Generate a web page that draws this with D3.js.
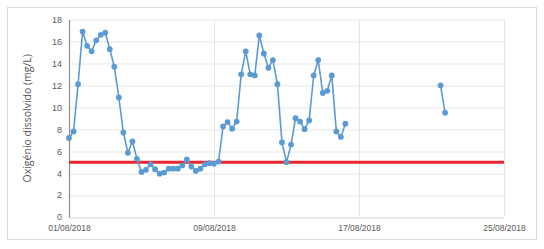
<!DOCTYPE html>
<html>
<head>
<meta charset="utf-8">
<script src="https://cdn.jsdelivr.net/npm/d3@7"></script>
<style>
  html, body { margin: 0; padding: 0; background: #fff; }
  svg { display: block; font-family: "Open Sans", "Liberation Sans", sans-serif; }
</style>
</head>
<body>
<div id="chart"></div>
<script>
/* Dissolved oxygen, one reading every 6 hours from 01/08/2018 00:00.
   null = no reading (the gap before the last two samples). */
const startDate = new Date(2018, 7, 1);
const stepHours = 6;
const oxygen = [
  7.2, 7.8, 12.1, 16.9, 15.6, 15.1, 16.1, 16.6, 16.8, 15.3,
  13.7, 10.9, 7.7, 5.85, 6.9, 5.3, 4.1, 4.3, 4.8, 4.35,
  3.95, 4.05, 4.4, 4.4, 4.4, 4.7, 5.25, 4.6, 4.2, 4.4,
  4.8, 4.9, 4.85, 5.05, 8.25, 8.65, 8.05, 8.7, 13.0, 15.1,
  13.0, 12.9, 16.55, 14.9, 13.6, 14.3, 12.1, 6.8, 5.0, 6.6,
  9.0, 8.7, 8.0, 8.8, 12.9, 14.3, 11.3, 11.5, 12.9, 7.8,
  7.3, 8.5,
  null, null, null, null, null, null, null, null, null, null,
  null, null, null, null, null, null, null, null, null, null,
  12.0, 9.5
];
const limitValue = 5;
const yTicks = [0, 2, 4, 6, 8, 10, 12, 14, 16, 18];
const xTickDates = [new Date(2018, 7, 1), new Date(2018, 7, 9), new Date(2018, 7, 17), new Date(2018, 7, 25)];
const yTitle = "Oxigénio dissolvido (mg/L)";

const W = 544, H = 249;
const m = { top: 19.5, right: 40, bottom: 32, left: 69 };
const iw = W - m.left - m.right, ih = H - m.top - m.bottom;

const data = oxygen.map((v, i) => ({ t: d3.timeHour.offset(startDate, i * stepHours), v }));

const svg = d3.select("#chart").append("svg").attr("width", W).attr("height", H);

// chart frame
svg.append("rect").attr("x", 7.5).attr("y", 7.5).attr("width", 529).attr("height", 232)
  .attr("fill", "#fff").attr("stroke", "#d9d9d9");

const g = svg.append("g").attr("transform", `translate(${m.left},${m.top})`);

const x = d3.scaleTime().domain([xTickDates[0], xTickDates[3]]).range([0, iw]);
const y = d3.scaleLinear().domain([0, 18]).range([ih, 0]);

// gridlines
g.append("g").selectAll("line").data(yTicks).join("line")
  .attr("x1", 0).attr("x2", iw)
  .attr("y1", (d) => Math.round(y(d)) + 0.5).attr("y2", (d) => Math.round(y(d)) + 0.5)
  .attr("stroke", (d) => d === 0 ? "#d4d4d4" : "#e6e6e6");
g.append("g").selectAll("line").data(xTickDates.slice(1)).join("line")
  .attr("x1", (d) => Math.round(x(d)) + 0.5).attr("x2", (d) => Math.round(x(d)) + 0.5)
  .attr("y1", 0).attr("y2", ih)
  .attr("stroke", "#e6e6e6");

// y axis
const yAxis = g.append("g").call(d3.axisLeft(y).tickValues(yTicks).tickSize(0).tickPadding(7));
yAxis.select(".domain").attr("stroke", "#8c8c8c").attr("stroke-width", 1.2);
yAxis.selectAll("text").attr("fill", "#595959").attr("font-size", 9);

// x axis labels
const xAxis = g.append("g").attr("transform", `translate(0,${ih})`)
  .call(d3.axisBottom(x).tickValues(xTickDates).tickSize(0).tickPadding(8).tickFormat(d3.timeFormat("%d/%m/%Y")));
xAxis.select(".domain").remove();
xAxis.selectAll("text").attr("fill", "#595959").attr("font-size", 8.5);

// y title
svg.append("text")
  .attr("transform", `translate(31,${m.top + ih / 2}) rotate(-90)`)
  .attr("text-anchor", "middle").attr("fill", "#595959").attr("font-size", 10.5)
  .text(yTitle);

// limit line
g.append("line")
  .attr("x1", 0).attr("x2", iw).attr("y1", y(limitValue)).attr("y2", y(limitValue))
  .attr("stroke", "#e8262e").attr("stroke-width", 3);

// series
const line = d3.line().defined((d) => d.v !== null).x((d) => x(d.t)).y((d) => y(d.v));
g.append("path").datum(data).attr("d", line)
  .attr("fill", "none").attr("stroke", "#5b9bd5").attr("stroke-width", 1.6).attr("stroke-linejoin", "round");
g.append("g").selectAll("circle").data(data.filter((d) => d.v !== null)).join("circle")
  .attr("cx", (d) => x(d.t)).attr("cy", (d) => y(d.v)).attr("r", 2.9)
  .attr("fill", "#5b9bd5");
</script>
</body>
</html>
